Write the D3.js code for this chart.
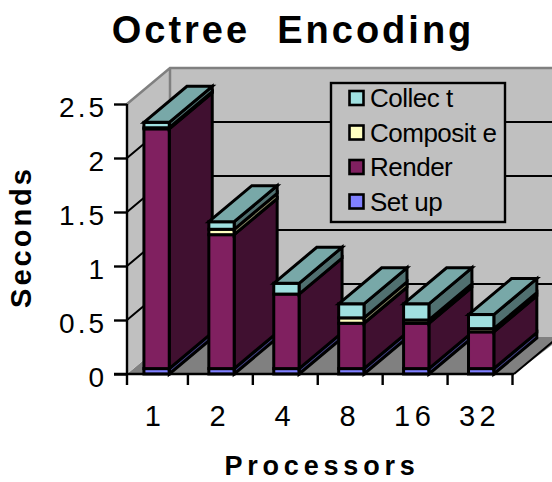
<!DOCTYPE html>
<html>
<head>
<meta charset="utf-8">
<script src="https://cdn.jsdelivr.net/npm/d3@7"></script>
<style>
  html, body { margin: 0; background: #fff; }
  svg { display: block; }
  text { font-family: "Liberation Sans", Arial, sans-serif; fill: #000; }
</style>
</head>
<body>
<svg></svg>
<script>
const processors = ['1', '2', '4', '8', '16', '32'];
const setup = [0.05, 0.05, 0.05, 0.05, 0.05, 0.05];
const render = [2.22, 1.24, 0.69, 0.42, 0.42, 0.34];
const composite = [0.01, 0.05, 0.0, 0.05, 0.03, 0.03];
const collect = [0.05, 0.07, 0.10, 0.13, 0.15, 0.13];
const seriesColors = ['#8080ff', '#802060', '#ffffc0', '#a0e0e0'];
const yTicks = [0, 0.5, 1, 1.5, 2, 2.5];
const legendOrder = [3, 2, 1, 0];
const legendLabels = ['Collec t', 'Composit e', 'Render', 'Set up'];

const size = {w: 552, h: 482};
const depth = {x: 43, y: -36};
const svg = d3.select('svg').attr('width', size.w).attr('height', size.h);

const x = d3.scaleBand().domain(processors).range([122.5, 512]);
const y = d3.scaleLinear().domain([0, 2.5]).range([374, 104]);
const xEdge = d3.scaleLinear().domain([0, 6]).range([122.5, 512]);
const axisX = 127, floorRight = 514;

const poly = pts => pts.map(p => p.join(',')).join(' ');
const shade = (c, k) => {
  const r = d3.rgb(c);
  return d3.rgb(r.r * k, r.g * k, r.b * k).formatHex();
};

// --------- WALLS ----------
const wallsG = svg.append('g');
wallsG.append('polygon')
  .attr('points', poly([[axisX, y(0)], [axisX + depth.x, y(0) + depth.y], [floorRight + depth.x + 4, y(0) + depth.y], [floorRight, y(0)]]))
  .attr('fill', '#808080');
wallsG.append('polygon')
  .attr('points', poly([[axisX, y(2.5)], [axisX + depth.x, y(2.5) + depth.y], [axisX + depth.x, y(0) + depth.y], [axisX, y(0)]]))
  .attr('fill', '#c0c0c0');
wallsG.append('rect')
  .attr('x', axisX + depth.x).attr('y', y(2.5) + depth.y)
  .attr('width', size.w - axisX - depth.x).attr('height', y(0) - y(2.5))
  .attr('fill', '#c0c0c0');
wallsG.append('path')
  .attr('d', `M${axisX},${y(2.5)}L${axisX + depth.x},${y(2.5) + depth.y}H${size.w}M${axisX + depth.x},${y(2.5) + depth.y}V${y(0) + depth.y}`)
  .attr('fill', 'none').attr('stroke', '#808080').attr('stroke-width', 2.5);

// gridlines on side wall and back wall
const gridG = svg.append('g').attr('fill', 'none').attr('stroke', '#000').attr('stroke-width', 2);
yTicks.filter(t => t > 0 && t < 2.5).forEach(t => {
  gridG.append('path')
    .attr('d', `M${axisX},${y(t)}L${axisX + depth.x},${y(t) + depth.y}H${size.w}`);
});
wallsG.append('path')
  .attr('d', `M${axisX + depth.x},${y(0) + depth.y}H${size.w}`)
  .attr('stroke', '#808080').attr('stroke-width', 2);

// --------- BARS ----------
const barsG = svg.append('g').attr('stroke', '#000').attr('stroke-width', 3).attr('stroke-linejoin', 'miter');
const series = [setup, render, composite, collect];
const barW = x.bandwidth() * 0.39;
const barOff = x.bandwidth() * 0.33;

processors.forEach((p, i) => {
  const x0 = x(p) + barOff, x1 = x0 + barW;
  let total = 0;
  series.forEach((vals, s) => {
    const v = vals[i];
    if (v <= 0) return;
    const yb = y(total), yt = y(total + v);
    total += v;
    // side face
    barsG.append('polygon')
      .attr('points', poly([[x1, yb], [x1 + depth.x, yb + depth.y], [x1 + depth.x, yt + depth.y], [x1, yt]]))
      .attr('fill', shade(seriesColors[s], 0.5));
    // front face
    barsG.append('rect')
      .attr('x', x0).attr('y', yt).attr('width', barW).attr('height', yb - yt)
      .attr('fill', seriesColors[s]);
  });
  const yt = y(total);
  // top face takes the colour of the last series
  barsG.append('polygon')
    .attr('points', poly([[x0, yt], [x0 + depth.x, yt + depth.y], [x1 + depth.x, yt + depth.y], [x1, yt]]))
    .attr('fill', shade(seriesColors[3], 0.75));
});

// --------- AXES ----------
const yAxis = d3.axisLeft(y).tickValues(yTicks).tickSize(13).tickPadding(7).tickFormat(d3.format('~g'));
const yG = svg.append('g').attr('transform', `translate(${axisX},0)`).call(yAxis);
yG.selectAll('.tick line').attr('stroke-width', 2.4);
yG.select('.domain').attr('stroke-width', 2.4).attr('d', `M0,${y(2.5)}V${y(0) + 11}`);
yG.selectAll('text').attr('font-size', 28).attr('letter-spacing', 3).attr('dy', '0.44em');

const tickG = svg.append('g').attr('transform', `translate(0,${y(0)})`)
  .call(d3.axisBottom(xEdge).tickValues(d3.range(1, 7)).tickSize(11).tickFormat(''));
tickG.selectAll('.tick line').attr('stroke-width', 2.4);
tickG.select('.domain').attr('stroke-width', 2.4).attr('d', `M${axisX - 13},0H${floorRight}`);

const labelG = svg.append('g').attr('transform', `translate(0,${y(0)})`)
  .call(d3.axisBottom(x).tickSize(0).tickPadding(31));
labelG.select('.domain').remove();
labelG.selectAll('text').attr('font-size', 29).attr('letter-spacing', 4.5);

// floor front right edge
svg.append('path')
  .attr('d', `M${floorRight},${y(0)}L${floorRight + depth.x},${y(0) + depth.y}`)
  .attr('stroke', '#000').attr('stroke-width', 2);

// --------- TITLES ----------
svg.append('text').attr('x', 293).attr('y', 43).attr('text-anchor', 'middle')
  .attr('font-size', 38).attr('font-weight', 'bold').attr('letter-spacing', 3)
  .style('white-space', 'pre').text('Octree  Encoding');
svg.append('text').attr('x', 322).attr('y', 475).attr('text-anchor', 'middle')
  .attr('font-size', 27).attr('font-weight', 'bold').attr('letter-spacing', 4.8).text('Processors');
svg.append('text').attr('transform', 'translate(31,237) rotate(-90)').attr('text-anchor', 'middle')
  .attr('font-size', 29).attr('font-weight', 'bold').attr('letter-spacing', 3).text('Seconds');

// --------- LEGEND ----------
const legendG = svg.append('g');
legendG.append('rect').attr('x', 331).attr('y', 83).attr('width', 174).attr('height', 139)
  .attr('fill', '#c0c0c0').attr('stroke', '#000').attr('stroke-width', 2.4);
legendOrder.forEach((s, i) => {
  const cy = 98 + i * 34.5;
  legendG.append('rect').attr('x', 349.5).attr('y', cy - 7).attr('width', 14).attr('height', 14)
    .attr('fill', seriesColors[s]).attr('stroke', '#000').attr('stroke-width', 2.6);
  legendG.append('text').attr('x', 370).attr('y', cy + 9)
    .attr('font-size', 26).attr('letter-spacing', -0.5).text(legendLabels[i]);
});
</script>
</body>
</html>
